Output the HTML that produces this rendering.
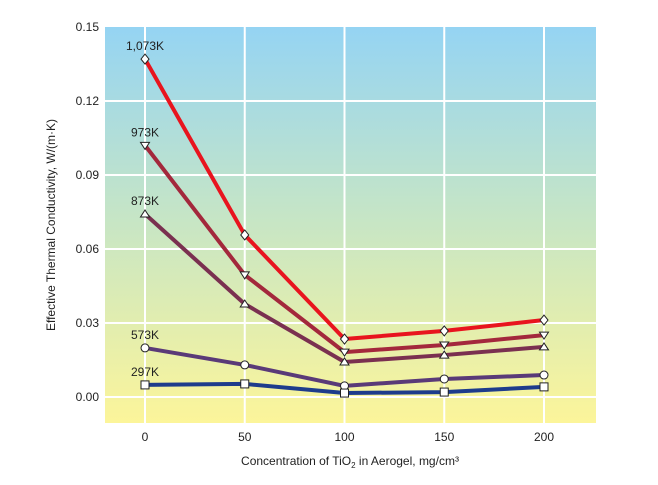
<!DOCTYPE html>
<html><head><meta charset="utf-8"><style>
body{margin:0;background:#fff;font-family:"Liberation Sans",sans-serif}
svg text{font-family:"Liberation Sans",sans-serif;fill:#222}
</style></head><body>
<svg width="658" height="480" id="c">
<defs><linearGradient id="bg" x1="0" y1="0" x2="0" y2="1">
<stop offset="0" stop-color="#95d4f3"/><stop offset="0.5" stop-color="#c8e6c4"/><stop offset="1" stop-color="#fcf59a"/>
</linearGradient></defs>
<rect x="105" y="27" width="491" height="396" fill="url(#bg)"/>
<g id="grid"></g><g id="series"></g><g id="axes"></g>
<text x="350" y="465" text-anchor="middle" font-size="12">Concentration of TiO<tspan font-size="8" dy="3">2</tspan><tspan dy="-3"> in Aerogel, mg/cm³</tspan></text>
<text transform="translate(55,225) rotate(-90)" text-anchor="middle" font-size="12">Effective Thermal Conductivity, W/(m·K)</text>
</svg>
<script>
const xCats=[0,50,100,150,200];
const yTicks=[0,0.03,0.06,0.09,0.12,0.15];
const yTickLabels=["0.00","0.03","0.06","0.09","0.12","0.15"];
const seriesNames=["1,073K","973K","873K","573K","297K"];
const s1073=[0.137,0.0657,0.0235,0.0268,0.0312];
const s973=[0.102,0.0495,0.0182,0.0211,0.0251];
const s873=[0.0742,0.0377,0.0142,0.017,0.0203];
const s573=[0.0199,0.013,0.0045,0.0073,0.0089];
const s297=[0.0049,0.0053,0.0016,0.002,0.0041];
const NS="http://www.w3.org/2000/svg";
const X=v=>145+v*399/200, Y=v=>397-v*74/0.03/1;
function mk(t,a,p){const e=document.createElementNS(NS,t);for(const k in a)e.setAttribute(k,a[k]);p.appendChild(e);return e;}
const g=document.getElementById('grid'),ax=document.getElementById('axes'),sg=document.getElementById('series');
xCats.forEach(c=>{const l=mk('line',{x1:X(c),x2:X(c),y1:27,y2:423,stroke:'#fff','stroke-width':2},g);

const t=mk('text',{x:X(c),y:441,'text-anchor':'middle','font-size':12},ax);t.textContent=c;
});
yTicks.forEach((v,i)=>{if(i<yTicks.length-1){const l=mk('line',{x1:105,x2:596,y1:Y(v),y2:Y(v),stroke:'#fff','stroke-width':2},g);
}
const t=mk('text',{x:99,y:Y(v)+4,'text-anchor':'end','font-size':12},ax);t.textContent=yTickLabels[i];
});
const data=[s1073,s973,s873,s573,s297];
const colors=["#e8141e","#a3283c","#7a3050","#5a3a78","#1e3c8c"];
const markers=["diamond","down","up","circle","square"];
data.forEach((d,i)=>{
const pl=mk('polyline',{points:d.map((v,j)=>X(xCats[j])+','+Y(v)).join(' '),fill:'none',stroke:colors[i],'stroke-width':4,'stroke-linejoin':'round'},sg);

d.forEach((v,j)=>{const x=X(xCats[j]),y=Y(v);let m;const st={fill:'#fff',stroke:'#222','stroke-width':1};
if(markers[i]=='diamond')m=mk('polygon',Object.assign({points:`${x},${y-5} ${x+4},${y} ${x},${y+5} ${x-4},${y}`},st),sg);
else if(markers[i]=='down')m=mk('polygon',Object.assign({points:`${x-4.5},${y-3} ${x+4.5},${y-3} ${x},${y+4}`},st),sg);
else if(markers[i]=='up')m=mk('polygon',Object.assign({points:`${x-4.5},${y+3} ${x+4.5},${y+3} ${x},${y-4}`},st),sg);
else if(markers[i]=='circle')m=mk('circle',Object.assign({cx:x,cy:y,r:4},st),sg);
else m=mk('rect',Object.assign({x:x-4,y:y-4,width:8,height:8},st),sg);
});
const t=mk('text',{x:X(0),y:Y(d[0])-9,'text-anchor':'middle','font-size':12},sg);t.textContent=seriesNames[i];
});
</script>
</body></html>
